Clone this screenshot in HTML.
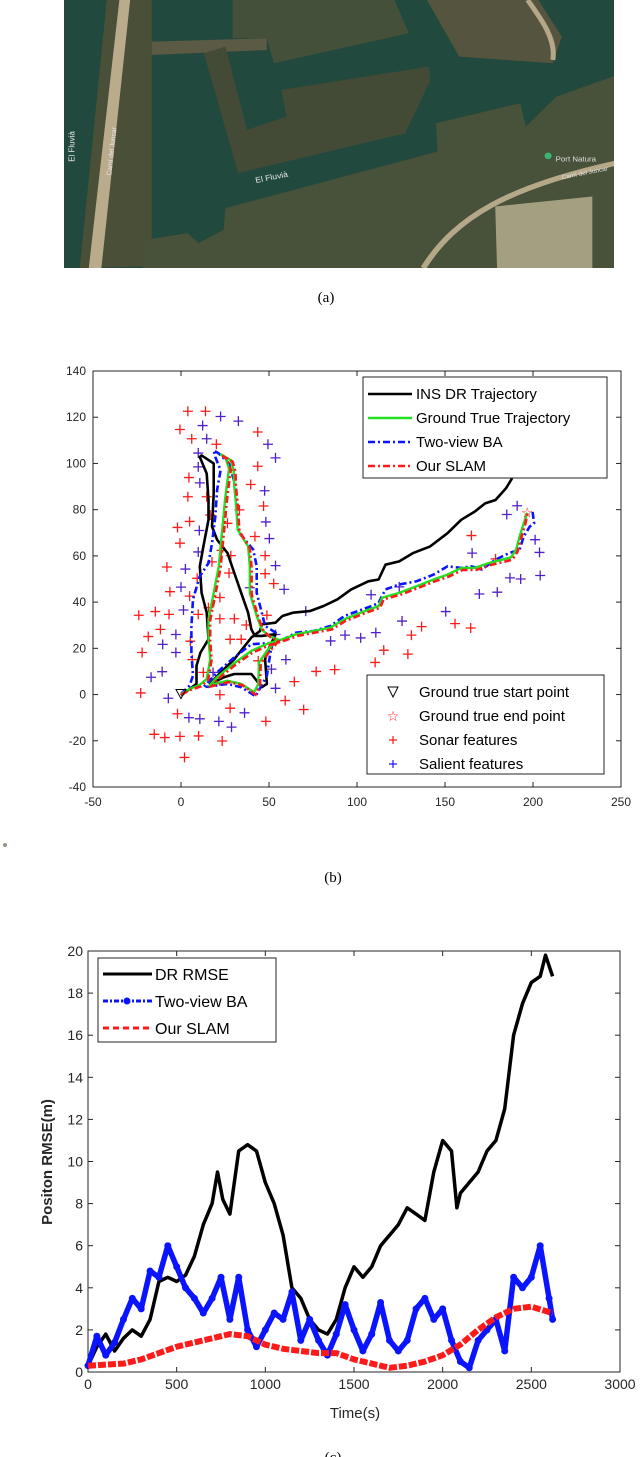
<!DOCTYPE html>
<html><head><meta charset="utf-8"><style>
html,body{margin:0;padding:0;background:#fff;width:640px;height:1457px;overflow:hidden}
svg{display:block;font-family:"Liberation Sans",sans-serif}
</style></head><body>
<svg id="root" width="640" height="1457" viewBox="0 0 640 1457" xmlns="http://www.w3.org/2000/svg">
<defs><clipPath id="mapclip"><rect x="0" y="0" width="550" height="268"/></clipPath></defs>
<g transform="translate(64,0)" clip-path="url(#mapclip)">
  <rect width="550" height="268" fill="#21493d"/>
  <g transform="translate(-4,0) scale(0.3597,0.333)">
    <polygon fill="#4a4f38" points="55,805 130,0 255,0 255,800"/>
    <polygon fill="#45503a" points="480,0 930,0 970,100 595,190 575,115 480,115"/>
    <polygon fill="#5a5a45" points="255,125 575,115 575,150 255,165"/>
    <polygon fill="#434b36" points="400,160 460,140 520,390 630,350 615,270 1025,200 1030,240 960,400 495,520"/>
    <polygon fill="#55553f" points="1020,0 1330,0 1395,110 1370,190 1110,170"/>
    <polygon fill="#48513a" points="460,625 1050,455 1045,370 1280,310 1295,380 1380,290 1550,225 1550,805 230,805 240,720 355,700 385,730 455,690"/>
    <polygon fill="#a39f80" points="1210,620 1480,590 1480,805 1215,805"/>
    <polygon fill="#b9ab8c" points="80,805 165,0 195,0 115,805"/>
    <path d="M1010,805 C1100,650 1250,560 1545,490" stroke="#b5a888" stroke-width="16" fill="none"/>
    <path d="M1300,0 C1340,60 1380,120 1370,180" stroke="#b5a888" stroke-width="14" fill="none"/>
    <text x="40" y="440" fill="#e8e8e8" font-size="24" transform="rotate(-90 40 440)" text-anchor="middle">El Fluvià</text>
    <text x="150" y="455" fill="#e8e8e8" font-size="20" transform="rotate(-84 150 455)" text-anchor="middle">Camí del Juncar</text>
    <text x="590" y="540" fill="#e8e8e8" font-size="24" transform="rotate(-12 590 540)" text-anchor="middle">El Fluvià</text>
    <circle cx="1357" cy="468" r="10" fill="#3cb371"/>
    <text x="1378" y="485" fill="#e0e0e0" font-size="22">Port Natura</text>
    <text x="1460" y="525" fill="#e0e0e0" font-size="18" transform="rotate(-12 1460 525)" text-anchor="middle">Camí del Juncar</text>
  </g>
</g>
<text x="326" y="302" font-family="Liberation Serif,serif" font-size="15" text-anchor="middle">(a)</text>
<g id="chartB"></g>
<circle cx="5" cy="845" r="2" fill="#9a8f80"/>
<text x="333" y="882" font-family="Liberation Serif,serif" font-size="15" text-anchor="middle">(b)</text>
<g id="chartC"></g>
<text x="333" y="1462" font-family="Liberation Serif,serif" font-size="15" text-anchor="middle">(c)</text>
</svg>
<script>
const NS="http://www.w3.org/2000/svg";
function mk(parent,tag,attrs,text){const e=document.createElementNS(NS,tag);for(const k in attrs)e.setAttribute(k,attrs[k]);if(text!==undefined)e.textContent=text;parent.appendChild(e);return e;}

// ---------- Chart B data ----------
const bXTicks=[-50,0,50,100,150,200,250];
const bYTicks=[-40,-20,0,20,40,60,80,100,120,140];
const insDR=[[0,-0.4],[4.9,2.4],[8.8,4.6],[8.8,12.5],[11.1,18.2],[15.6,23.9],[14.6,35.4],[11.7,44],[10.7,55.5],[12.7,64.1],[15.6,75.6],[15.6,84.2],[14.6,95.6],[10.7,102.8],[11.7,103.5],[18.6,100],[18.6,87],[17.6,72.7],[20.5,67],[26.4,61.2],[30.3,52.6],[34.2,44],[38.1,35.4],[40,28.2],[42,25.4],[45.9,25.4],[53.7,26.1],[49.8,19.6],[47.8,15.3],[48.8,4.6],[45.9,3.2],[40,8.9],[30.3,8.9],[24.4,7.5],[16.6,4.6],[22.5,9.6],[30.3,15.3],[40,24.7],[44.9,27.5],[45.9,30.4],[53.7,31.1],[57.6,34],[63.5,35.4],[73.2,36.1],[81,38.3],[88.9,41.2],[96.7,45.5],[106.4,49],[112.3,49.8],[116.2,56.2],[124,57.6],[131.8,61.2],[141.6,64.1],[151.4,69.8],[159.2,75.6],[167,79.2],[172.8,82.7],[178.7,84.2],[184.6,89.2],[187.5,92.8],[190.4,97.1]];
const groundTrue=[[0,0.3],[4.9,2.4],[10.7,4.2],[14.6,6.7],[16.6,15.3],[15.6,23.9],[15.6,32.6],[18.6,44],[21.5,55.5],[22.5,64.1],[24,75.6],[25,84.2],[26.4,92.8],[27.3,97.8],[25.4,102.1],[22.5,104],[28.3,101.4],[29.9,97.1],[30.3,89.9],[31.2,82.7],[32.2,71.3],[38.1,64.1],[39.1,55.5],[39.1,44],[43,34],[45.9,28.2],[49.8,25.4],[54.7,23.9],[48.8,18.9],[44.3,13.9],[43.9,4.6],[41.6,1],[34.2,4.6],[26.4,6],[16.6,4.2],[20.5,7.5],[30.3,13.6],[40,18.9],[49.8,22.2],[57.6,23.9],[65.4,26.1],[75.2,27.5],[85,29],[92.8,32.6],[104.5,36.1],[112.3,38.3],[114.3,41.9],[124,44],[133.8,46.9],[143.5,49.8],[151.4,51.9],[159.2,54.8],[167,54.8],[174.8,56.9],[182.6,58.4],[187.5,59.4],[190.4,62.7],[192.4,68.4],[194.7,74.1],[196.7,78.7]];
const twoViewBA=[[0,0.3],[4.9,3.9],[6.8,8.2],[5.9,18.2],[5.9,29.7],[6.8,41.2],[10.7,51.2],[15.6,56.9],[17.6,65.5],[19.5,77],[20.5,88.5],[22.5,97.1],[19.5,102.8],[18.6,105.7],[21.5,104.3],[27.3,100],[31.2,89.9],[33.2,69.8],[41,62.7],[43,55.5],[43,44],[45.9,35.4],[47.8,29.7],[53.7,26.8],[50.8,18.2],[48.8,8.2],[42.4,-0.7],[34.2,3.2],[26.4,4.6],[12.7,3.2],[20.5,9.6],[30.3,16.1],[40,21.8],[54.7,22.5],[65.4,26.8],[75.2,27.5],[85,29.7],[92.8,34],[108.4,38.3],[112.3,39.7],[116.2,45.5],[124,47.6],[133.8,49],[143.5,51.9],[151.4,55.5],[159.2,54.8],[165,55.5],[170.9,54.1],[178.7,58.4],[186.5,61.2],[192.4,62.7],[194.7,68.4],[198.2,72.7],[200.6,74.1],[199.6,79.9]];
const ourSLAM=[[0,0],[5.5,2],[11.5,3.6],[15.4,6.2],[17.4,15],[16.6,23.5],[16.6,32.2],[19.6,43.5],[22.5,55],[23.5,63.6],[25,75],[26,83.6],[27.4,92.2],[28.3,97.2],[26.4,101.6],[23.5,103.4],[29.3,100.8],[30.9,96.5],[31.3,89.3],[32.2,82],[33.2,70.7],[39.1,63.4],[40.1,54.8],[40.1,43.4],[44,33.4],[46.9,27.6],[50.8,24.8],[55.5,23.2],[49.8,18.2],[45.3,13.2],[44.9,4],[42.4,0],[35,4],[27.2,5.4],[17.4,3.6],[21.3,6.9],[31.1,13],[40.8,18.2],[50.6,21.5],[58.4,23.2],[66.2,25.4],[76,26.8],[85.8,28.2],[93.6,31.9],[105.3,35.4],[113.1,37.6],[115.1,41.2],[124.8,43.2],[134.6,46.1],[144.3,49],[152.2,51.1],[160,53.9],[167.8,53.9],[175.6,56],[183.4,57.4],[188.3,58.4],[191.2,61.8],[193.2,67.6],[195.5,73.4],[197,78.5]];
const sonarFeatures=[[3.9,122.6],[13.9,122.6],[-0.6,114.7],[6.1,110.7],[43.6,113.6],[20.1,108.3],[43.6,98.8],[4.5,93.9],[3.9,85.6],[14.6,85.6],[39.6,90.9],[46.9,81.6],[16.6,77.7],[33.2,79.9],[4.9,74.9],[-2,72.3],[-0.6,65.5],[26.4,74.1],[23,62.4],[42,68.4],[47.8,60.1],[-8,55.2],[17.6,57.4],[28.3,60.1],[9.2,50.3],[27.3,52.6],[47.8,52.3],[52.7,48],[-6.3,44.5],[4.9,42.6],[22.1,42],[-24,34.3],[-14.6,35.9],[-6.8,34.7],[9.8,34.7],[15.6,37.6],[22.1,32.8],[30.3,32.8],[37.1,30.1],[48.8,34.3],[-18.6,25.1],[-11.7,28.2],[-22.1,18.2],[5.3,23.1],[27.9,23.9],[34.2,23.9],[6.4,15.1],[43.9,14.6],[12.7,9.6],[64.4,5.6],[76.8,10],[87.3,10.8],[-22.9,0.7],[22.1,-0.1],[59.2,-2.6],[69.7,-6.5],[27.9,-5.9],[-2,-8.3],[48.2,-11.6],[-15.2,-17.2],[-9.2,-18.6],[-0.6,-18.1],[10,-17.9],[23.4,-20.1],[2,-27.2],[110.3,13.9],[115.2,19.2],[128.9,17.5],[130.9,25.7],[136.7,29.4],[155.7,30.7],[164.6,28.8],[165,68.8],[178.7,58.7]];
const salientFeatures=[[22.5,120.3],[32.6,118.3],[12.3,116.4],[14.6,110.7],[49.4,108.3],[53.7,102.4],[9.8,104.5],[9.8,98.5],[10.7,91.6],[47.5,88.2],[48.2,74.7],[10.4,71],[50.2,67.5],[9.8,61.7],[53.7,55.8],[2.5,54.3],[0,46.5],[39.1,46.2],[58.6,45.5],[1.4,36.6],[70.9,36.1],[-2.9,26],[-10.4,21.7],[-2.9,18.2],[53.7,26],[59.6,15.1],[51.4,11],[-10.7,9.9],[-17,7.5],[18.2,9.6],[53.7,2.7],[-7.2,-1.6],[4.5,-10],[10.7,-10.5],[21.5,-11.6],[28.7,-14.1],[36.1,-7.9],[85,23.2],[93.2,25.7],[102.1,24.5],[110.7,26.8],[108,43.2],[124,46.6],[125.6,31.8],[150.4,35.9],[165.4,61.2],[169.5,43.5],[179.7,44.3],[186.9,50.5],[193,50],[204.1,51.5],[203.7,61.5],[201.2,67],[185.1,77.9],[191,81.7]];
const startPoint=[0,0];
const endPoint=[196.7,78.7];

// ---------- Chart C data ----------
const cXTicks=[0,500,1000,1500,2000,2500,3000];
const cYTicks=[0,2,4,6,8,10,12,14,16,18,20];
const drTime=[0,50,100,150,200,250,300,350,400,450,500,550,600,650,700,730,760,800,850,900,950,1000,1050,1100,1150,1200,1250,1300,1350,1400,1450,1500,1550,1600,1650,1700,1750,1800,1850,1900,1950,2000,2050,2080,2100,2150,2200,2250,2300,2350,2400,2450,2500,2550,2580,2620];
const drRMSE=[0.3,1.2,1.8,1.0,1.6,2.0,1.7,2.5,4.3,4.5,4.3,4.6,5.5,7.0,8.0,9.5,8.2,7.5,10.5,10.8,10.5,9.0,8.0,6.5,4.0,3.5,2.5,2.0,1.8,2.5,4.0,5.0,4.5,5.0,6.0,6.5,7.0,7.8,7.5,7.2,9.5,11.0,10.5,7.8,8.5,9.0,9.5,10.5,11.0,12.5,16.0,17.5,18.5,18.8,19.8,18.8];
const baTime=[0,50,100,150,200,250,300,350,400,450,500,550,600,650,700,750,800,850,900,950,1000,1050,1100,1150,1200,1250,1300,1350,1400,1450,1500,1550,1600,1650,1700,1750,1800,1850,1900,1950,2000,2050,2100,2150,2200,2250,2300,2350,2400,2450,2500,2550,2600,2620];
const baRMSE=[0.3,1.7,0.8,1.4,2.5,3.5,3.0,4.8,4.5,6.0,5.0,4.0,3.5,2.8,3.5,4.5,2.5,4.5,2.0,1.2,2.0,2.8,2.5,3.8,1.5,2.5,1.5,0.8,1.8,3.2,2.0,1.0,1.8,3.3,1.5,1.0,1.5,3.0,3.5,2.5,3.0,1.5,0.5,0.2,1.5,2.0,2.5,1.0,4.5,4.0,4.5,6.0,3.5,2.5];
const slamTime=[0,100,200,300,400,500,600,700,800,900,1000,1100,1200,1300,1400,1500,1600,1700,1800,1900,2000,2100,2200,2300,2400,2500,2620];
const slamRMSE=[0.3,0.35,0.4,0.6,0.9,1.2,1.4,1.6,1.8,1.7,1.3,1.1,1.0,0.9,0.9,0.6,0.4,0.2,0.3,0.5,0.8,1.3,2.0,2.6,3.0,3.1,2.8];

// ---------- Draw chart B ----------
(function(){
  const g=document.getElementById('chartB');
  const L=93,R=621,T=371,B=787;
  const xMin=-50,xMax=250,yMin=-40,yMax=140;
  const sx=v=>L+(v-xMin)/(xMax-xMin)*(R-L);
  const sy=v=>B-(v-yMin)/(yMax-yMin)*(B-T);
  const frame=mk(g,'rect',{x:L,y:T,width:R-L,height:B-T,fill:'#fff',stroke:'#262626','stroke-width':1});
  
  
  bXTicks.forEach(v=>{
    const x=sx(v);
    mk(g,'line',{x1:x,y1:B,x2:x,y2:B-5,stroke:'#262626'});
    mk(g,'line',{x1:x,y1:T,x2:x,y2:T+5,stroke:'#262626'});
    const t=mk(g,'text',{x:x,y:B+19,'font-size':12,'text-anchor':'middle',fill:'#262626'},String(v));
    
    
  });
  bYTicks.forEach(v=>{
    const y=sy(v);
    mk(g,'line',{x1:L,y1:y,x2:L+5,y2:y,stroke:'#262626'});
    mk(g,'line',{x1:R,y1:y,x2:R-5,y2:y,stroke:'#262626'});
    const t=mk(g,'text',{x:L-7,y:y+4,'font-size':12,'text-anchor':'end',fill:'#262626'},String(v));
    
    
  });
  const pts=a=>a.map(p=>sx(p[0]).toFixed(1)+','+sy(p[1]).toFixed(1)).join(' ');
  function plus(x,y,c,nm){
    const p=mk(g,'path',{d:`M${x-5},${y}H${x+5}M${x},${y-5}V${y+5}`,stroke:c,'stroke-width':1.3});
    
    
  }
  sonarFeatures.forEach(p=>plus(sx(p[0]),sy(p[1]),'#ff1a1a','sonar-feature'));
  salientFeatures.forEach(p=>plus(sx(p[0]),sy(p[1]),'#5020c8','salient-feature'));
  const l1=mk(g,'polyline',{points:pts(insDR),fill:'none',stroke:'#000','stroke-width':2.6,'stroke-linejoin':'round'});
  
  
  const l3=mk(g,'polyline',{points:pts(twoViewBA),fill:'none',stroke:'#0a14ff','stroke-width':2.6,'stroke-dasharray':'7,3,2,3'});
  
  
  const l2=mk(g,'polyline',{points:pts(groundTrue),fill:'none',stroke:'#22e022','stroke-width':2.4});
  
  
  const l4=mk(g,'polyline',{points:pts(ourSLAM),fill:'none',stroke:'#ff1a1a','stroke-width':2.6,'stroke-dasharray':'7,3,2,3'});
  
  
  const sxp=sx(startPoint[0]),syp=sy(startPoint[1]);
  const st=mk(g,'polygon',{points:`${sxp-5},${syp-5} ${sxp+5},${syp-5} ${sxp},${syp+4}`,fill:'none',stroke:'#000'});
  
  
  const ex=sx(endPoint[0]),ey=sy(endPoint[1]);
  const en=mk(g,'text',{x:ex,y:ey+5,'font-size':14,'text-anchor':'middle',fill:'#ff1a1a','font-family':'DejaVu Sans'},'☆');
  
  
  const lg=mk(g,'g',{});
  
  
  mk(lg,'rect',{x:363,y:377,width:244,height:101,fill:'#fff',stroke:'#262626'});
  const ent=[['INS DR Trajectory','#000',''],['Ground True Trajectory','#22e022',''],['Two-view BA','#0a14ff','7,3,2,3'],['Our SLAM','#ff1a1a','7,3,2,3']];
  ent.forEach((e,i)=>{
    const y=394+i*24;
    mk(lg,'line',{x1:368,y1:y,x2:412,y2:y,stroke:e[1],'stroke-width':2.6,'stroke-dasharray':e[2]||'none'});
    const t=mk(lg,'text',{x:416,y:y+5,'font-size':15,fill:'#000'},e[0]);
    
    
  });
  const lg2=mk(g,'g',{});
  
  
  mk(lg2,'rect',{x:367,y:675,width:237,height:99,fill:'#fff',stroke:'#262626'});
  const names=['Ground true start point','Ground true end point','Sonar features','Salient features'];
  names.forEach((n,i)=>{
    const y=692+i*24;
    const t=mk(lg2,'text',{x:419,y:y+5,'font-size':15,fill:'#000'},n);
    
    
  });
  mk(lg2,'polygon',{points:'388,687 398,687 393,697',fill:'none',stroke:'#000'});
  mk(lg2,'text',{x:393,y:721,'font-size':14,'text-anchor':'middle',fill:'#ff1a1a','font-family':'DejaVu Sans'},'☆');
  mk(lg2,'path',{d:'M389,740H397M393,736V744',stroke:'#ff1a1a','stroke-width':1.2});
  mk(lg2,'path',{d:'M389,764H397M393,760V768',stroke:'#1a1aff','stroke-width':1.2});
})();

// ---------- Draw chart C ----------
(function(){
  const g=document.getElementById('chartC');
  const L=88,R=620,T=951,B=1372;
  const xMax=3000,yMax=20;
  const sx=v=>L+v/xMax*(R-L);
  const sy=v=>B-v/yMax*(B-T);
  const frame=mk(g,'rect',{x:L,y:T,width:R-L,height:B-T,fill:'#fff',stroke:'#262626'});
  
  
  cXTicks.forEach(v=>{
    const x=sx(v);
    mk(g,'line',{x1:x,y1:B,x2:x,y2:B-5,stroke:'#262626'});
    mk(g,'line',{x1:x,y1:T,x2:x,y2:T+5,stroke:'#262626'});
    const t=mk(g,'text',{x:x,y:B+17,'font-size':14,'text-anchor':'middle',fill:'#262626'},String(v));
    
    
  });
  cYTicks.forEach(v=>{
    const y=sy(v);
    mk(g,'line',{x1:L,y1:y,x2:L+5,y2:y,stroke:'#262626'});
    mk(g,'line',{x1:R,y1:y,x2:R-5,y2:y,stroke:'#262626'});
    const t=mk(g,'text',{x:L-5,y:y+5,'font-size':14,'text-anchor':'end',fill:'#262626'},String(v));
    
    
  });
  const xt=mk(g,'text',{x:355,y:1418,'font-size':15,'text-anchor':'middle',fill:'#262626'},'Time(s)');
  
  
  const yt=mk(g,'text',{x:52,y:1162,'font-size':15,'font-weight':'bold','text-anchor':'middle',fill:'#262626',transform:'rotate(-90 52 1162)'},'Positon RMSE(m)');
  
  
  const pts=(tt,vv)=>tt.map((t,i)=>sx(t).toFixed(1)+','+sy(vv[i]).toFixed(1)).join(' ');
  const dr=mk(g,'polyline',{points:pts(drTime,drRMSE),fill:'none',stroke:'#000','stroke-width':3.5,'stroke-linejoin':'round'});
  
  
  const ba=mk(g,'polyline',{points:pts(baTime,baRMSE),fill:'none',stroke:'#0a14ff','stroke-width':5.5,'stroke-linejoin':'round'});
  
  
  baTime.forEach((t,i)=>{
    const c=mk(g,'circle',{cx:sx(t),cy:sy(baRMSE[i]),r:3.5,fill:'#0a14ff'});
    
    
  });
  const sl=mk(g,'polyline',{points:pts(slamTime,slamRMSE),fill:'none',stroke:'#ff1a1a','stroke-width':6,'stroke-dasharray':'8,2'});
  
  
  const lg=mk(g,'g',{});
  
  
  mk(lg,'rect',{x:98,y:958,width:178,height:84,fill:'#fff',stroke:'#262626'});
  const ent=[['DR RMSE','#000','none'],['Two-view BA','#0a14ff','5,2,2,2'],['Our SLAM','#ff1a1a','6,4']];
  ent.forEach((e,i)=>{
    const y=974+i*27;
    mk(lg,'line',{x1:103,y1:y,x2:152,y2:y,stroke:e[1],'stroke-width':3,'stroke-dasharray':e[2]});
    if(i===1) mk(lg,'circle',{cx:127,cy:y,r:3.5,fill:e[1]});
    const t=mk(lg,'text',{x:155,y:y+6,'font-size':16,fill:'#000'},e[0]);
    
    
  });
})();
</script>
</body></html>
